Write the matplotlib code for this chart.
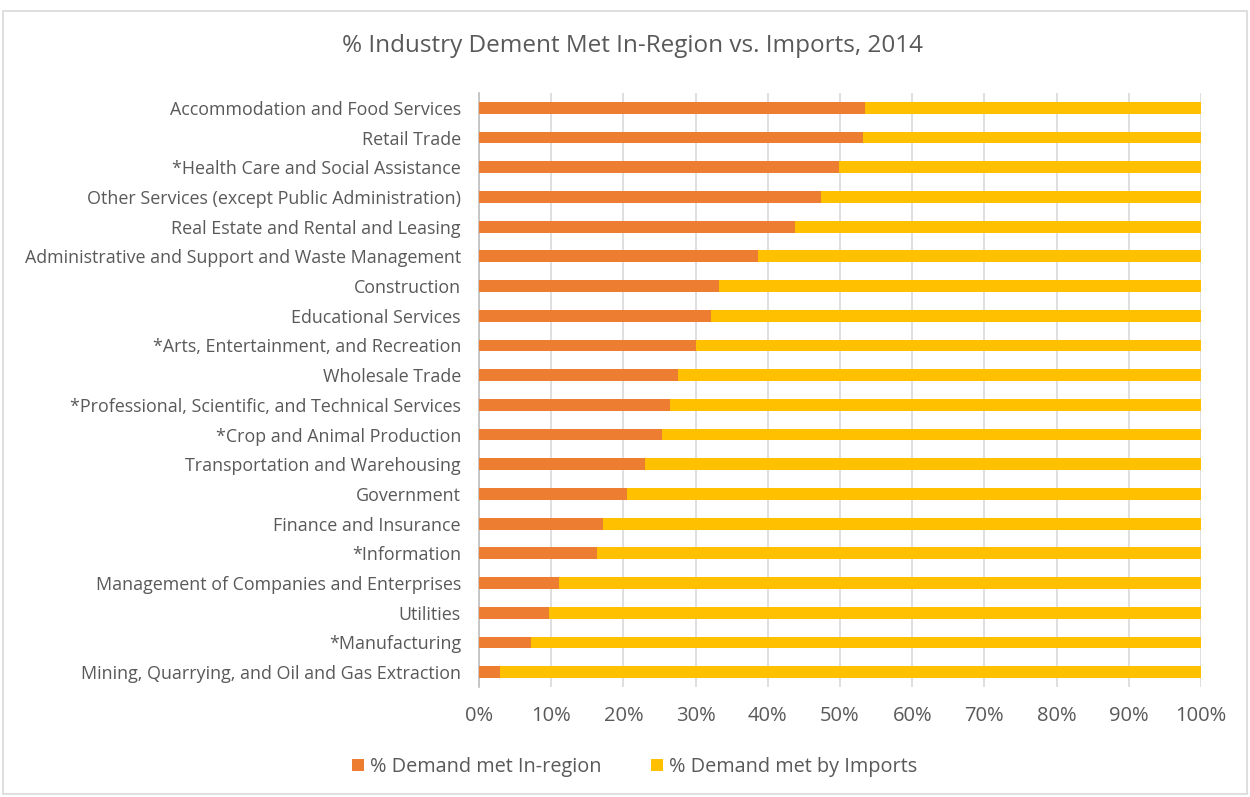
import matplotlib
matplotlib.use('Agg')
import matplotlib.pyplot as plt
from matplotlib.patches import Rectangle
from matplotlib.ticker import PercentFormatter

industries = [
    "Accommodation and Food Services",
    "Retail Trade",
    "*Health Care and Social Assistance",
    "Other Services (except Public Administration)",
    "Real Estate and Rental and Leasing",
    "Administrative and Support and Waste Management",
    "Construction",
    "Educational Services",
    "*Arts, Entertainment, and Recreation",
    "Wholesale Trade",
    "*Professional, Scientific, and Technical Services",
    "*Crop and Animal Production",
    "Transportation and Warehousing",
    "Government",
    "Finance and Insurance",
    "*Information",
    "Management of Companies and Enterprises",
    "Utilities",
    "*Manufacturing",
    "Mining, Quarrying, and Oil and Gas Extraction",
]
in_region = [53.5, 53.2, 49.8, 47.3, 43.8, 38.6, 33.2, 32.1, 30.0, 27.6,
             26.5, 25.3, 23.0, 20.5, 17.2, 16.4, 11.1, 9.7, 7.2, 2.9]
imports = [100 - v for v in in_region]

text_color = '#595959'
plt.rcParams['font.family'] = ['Open Sans', 'DejaVu Sans']

fig = plt.figure(figsize=(12.5, 7.97), dpi=100)
ax = fig.add_axes([479 / 1250, 1 - 687 / 797, (1201 - 479) / 1250, (687 - 93) / 797])

# gray chart border
fig.patches.append(Rectangle((3 / 1250, 3 / 797), 1244 / 1250, 783 / 797,
                             transform=fig.transFigure, fill=False,
                             edgecolor='#d9d9d9', linewidth=1.2))

y = list(range(len(industries)))[::-1]
ax.barh(y, in_region, height=0.4, color='#ED7D31', label='% Demand met In-region', zorder=3)
ax.barh(y, imports, left=in_region, height=0.4, color='#FFC000',
        label='% Demand met by Imports', zorder=3)

ax.set_xlim(0, 100)
ax.set_ylim(-0.5, len(industries) - 0.5)
ax.set_xticks(range(0, 101, 10))
ax.xaxis.set_major_formatter(PercentFormatter(decimals=0))
ax.set_yticks(y)
ax.set_yticklabels(industries)
ax.tick_params(axis='both', length=0, labelcolor=text_color)
ax.tick_params(axis='y', labelsize=12.9, pad=13)
ax.tick_params(axis='x', labelsize=14.5, pad=14)
ax.grid(axis='x', color='#d9d9d9', linewidth=1.2, zorder=0)
for s in ['top', 'right', 'bottom']:
    ax.spines[s].set_visible(False)
ax.spines['left'].set_color('#bfbfbf')
ax.spines['left'].set_linewidth(1.2)

fig.text(0.506, 1 - 46 / 797, '% Industry Dement Met In-Region vs. Imports, 2014',
         ha='center', va='center', fontsize=17.5, color=text_color)

handles, labels = ax.get_legend_handles_labels()
fig.legend(handles, labels, loc='center', bbox_to_anchor=(0.508, 1 - 767 / 797),
           ncol=2, frameon=False, fontsize=14.3, labelcolor=text_color,
           handlelength=0.6, handleheight=0.6, handletextpad=0.3, columnspacing=2.5)

fig.savefig('out.png', dpi=100)
